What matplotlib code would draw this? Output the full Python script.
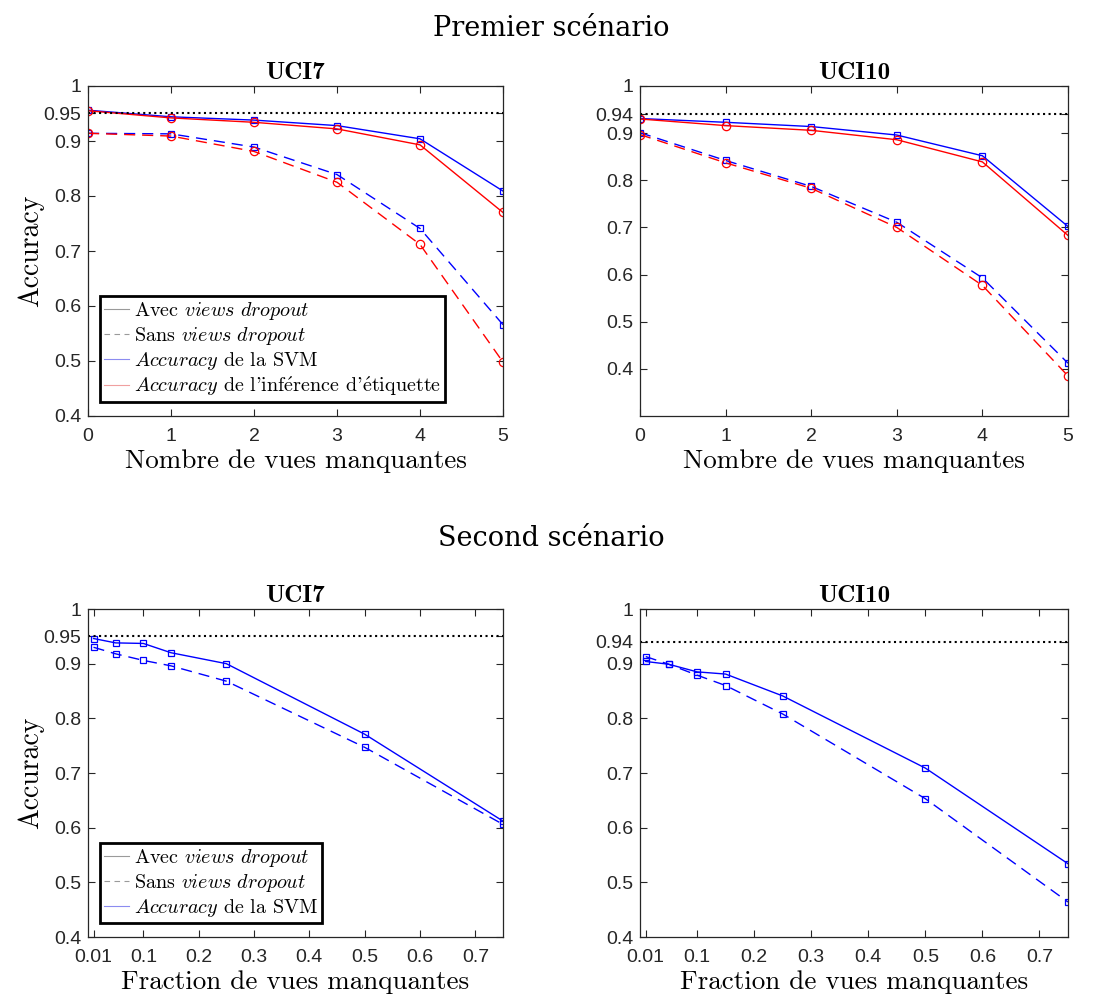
import numpy as np
import matplotlib
matplotlib.use('Agg')
import matplotlib.pyplot as plt
from matplotlib.lines import Line2D

plt.rcParams['mathtext.fontset'] = 'cm'

# premier scenario : nombre de vues manquantes
n_vues = [0, 1, 2, 3, 4, 5]
uci7_svm_avec = [0.956, 0.944, 0.938, 0.928, 0.904, 0.809]
uci7_inf_avec = [0.955, 0.942, 0.934, 0.922, 0.893, 0.770]
uci7_svm_sans = [0.914, 0.913, 0.889, 0.839, 0.741, 0.566]
uci7_inf_sans = [0.914, 0.909, 0.881, 0.825, 0.712, 0.498]

uci10_svm_avec = [0.931, 0.923, 0.914, 0.896, 0.852, 0.702]
uci10_inf_avec = [0.930, 0.916, 0.906, 0.886, 0.839, 0.683]
uci10_svm_sans = [0.901, 0.842, 0.787, 0.711, 0.593, 0.412]
uci10_inf_sans = [0.897, 0.837, 0.783, 0.700, 0.577, 0.385]

# second scenario : fraction de vues manquantes
fractions = [0.01, 0.05, 0.1, 0.15, 0.25, 0.5, 0.75]
uci7_frac_avec = [0.946, 0.938, 0.937, 0.920, 0.900, 0.771, 0.612]
uci7_frac_sans = [0.930, 0.918, 0.906, 0.896, 0.868, 0.747, 0.606]
uci10_frac_avec = [0.904, 0.899, 0.885, 0.881, 0.841, 0.709, 0.534]
uci10_frac_sans = [0.913, 0.899, 0.879, 0.860, 0.808, 0.653, 0.464]

ref_uci7 = 0.95
ref_uci10 = 0.94

yticks7 = [0.4, 0.5, 0.6, 0.7, 0.8, 0.9, 0.95, 1]
yticklabels7 = ['0.4', '0.5', '0.6', '0.7', '0.8', '0.9', '0.95', '1']
yticks10 = [0.4, 0.5, 0.6, 0.7, 0.8, 0.9, 0.94, 1]
yticklabels10 = ['0.4', '0.5', '0.6', '0.7', '0.8', '0.9', '0.94', '1']
xticks_frac = [0.01, 0.1, 0.2, 0.3, 0.4, 0.5, 0.6, 0.7]
xticklabels_frac = ['0.01', '0.1', '0.2', '0.3', '0.4', '0.5', '0.6', '0.7']

sans = ['Liberation Sans', 'DejaVu Sans']
cm = ['cmr10', 'DejaVu Serif']
gris = '#262626'

fig = plt.figure(figsize=(10.94, 9.99), dpi=100)
W, H = 1094, 999


def make_ax(x0, x1, y0, y1):
    ax = fig.add_axes([x0 / W, 1 - y1 / H, (x1 - x0) / W, (y1 - y0) / H])
    ax.tick_params(direction='in', top=True, right=True, length=5, width=0.8,
                   colors=gris, labelsize=14)
    ax.tick_params(axis='x', pad=9)
    ax.tick_params(axis='y', pad=5)
    for s in ax.spines.values():
        s.set_color(gris)
        s.set_linewidth(0.9)
    return ax


def style_ticks(ax, yt, ytl):
    ax.set_yticks(yt)
    ax.set_yticklabels(ytl, family=sans)
    for lab in ax.get_xticklabels():
        lab.set_family(sans)


lw = 1.0
dash = (0, (8, 5))

handles = [Line2D([], [], color='#9a9a9a', lw=0.8),
           Line2D([], [], color='#9a9a9a', lw=0.8, ls=(0, (5, 4))),
           Line2D([], [], color='#8c8cf0', lw=0.8),
           Line2D([], [], color='#f0a0a0', lw=0.8)]
labels = [r'Avec $views\ dropout$', r'Sans $views\ dropout$',
          r'$Accuracy$ de la SVM',
          r"$Accuracy$ de l'inf$\acute{\mathrm{e}}$rence d'$\acute{\mathrm{e}}$tiquette"]
leg_kw = dict(loc='lower left', bbox_to_anchor=(0.029, 0.042),
              prop={'family': cm, 'size': 14.5}, fancybox=False, framealpha=1,
              edgecolor='k', handlelength=1.25, handletextpad=0.25, labelspacing=0.15,
              borderpad=0.2, borderaxespad=0)

# ---- haut gauche
ax = make_ax(88, 503, 86, 416)
ax.plot(n_vues, uci7_svm_avec, '-', color='b', lw=lw, marker='s', ms=4, mfc='none', mew=0.9)
ax.plot(n_vues, uci7_inf_avec, '-', color='r', lw=lw, marker='o', ms=6, mfc='none', mew=0.9)
ax.plot(n_vues, uci7_svm_sans, ls=dash, color='b', lw=lw, marker='s', ms=4, mfc='none', mew=0.9)
ax.plot(n_vues, uci7_inf_sans, ls=dash, color='r', lw=lw, marker='o', ms=6, mfc='none', mew=0.9)
ax.axhline(ref_uci7, color='k', ls=':', lw=1.5)
ax.set_xlim(0, 5)
ax.set_ylim(0.4, 1)
ax.set_xticks(n_vues)
style_ticks(ax, yticks7, yticklabels7)
ax.set_title('UCI7', family='cmb10', fontsize=18, pad=5)
ax.set_xlabel('Nombre de vues manquantes', family=cm, fontsize=19.5, labelpad=3)
ax.set_ylabel('Accuracy', family=cm, fontsize=20, labelpad=-1)
leg = ax.legend(handles, labels, **leg_kw)
leg.get_frame().set_linewidth(2)

# ---- haut droite
ax = make_ax(640, 1068, 86, 416)
ax.plot(n_vues, uci10_svm_avec, '-', color='b', lw=lw, marker='s', ms=4, mfc='none', mew=0.9)
ax.plot(n_vues, uci10_inf_avec, '-', color='r', lw=lw, marker='o', ms=6, mfc='none', mew=0.9)
ax.plot(n_vues, uci10_svm_sans, ls=dash, color='b', lw=lw, marker='s', ms=4, mfc='none', mew=0.9)
ax.plot(n_vues, uci10_inf_sans, ls=dash, color='r', lw=lw, marker='o', ms=6, mfc='none', mew=0.9)
ax.axhline(ref_uci10, color='k', ls=':', lw=1.5)
ax.set_xlim(0, 5)
ax.set_ylim(0.3, 1)
ax.set_xticks(n_vues)
style_ticks(ax, yticks10, yticklabels10)
ax.set_title('UCI10', family='cmb10', fontsize=18, pad=5)
ax.set_xlabel('Nombre de vues manquantes', family=cm, fontsize=19.5, labelpad=3)

# ---- bas gauche
ax = make_ax(88, 503, 609, 937)
ax.plot(fractions, uci7_frac_avec, '-', color='b', lw=lw, marker='s', ms=4, mfc='none', mew=0.9)
ax.plot(fractions, uci7_frac_sans, ls=dash, color='b', lw=lw, marker='s', ms=4, mfc='none', mew=0.9)
ax.axhline(ref_uci7, color='k', ls=':', lw=1.5)
ax.set_xlim(0, 0.75)
ax.set_ylim(0.4, 1)
ax.set_xticks(xticks_frac)
ax.set_xticklabels(xticklabels_frac)
style_ticks(ax, yticks7, yticklabels7)
ax.set_title('UCI7', family='cmb10', fontsize=18, pad=5)
ax.set_xlabel('Fraction de vues manquantes', family=cm, fontsize=19.5, labelpad=3)
ax.set_ylabel('Accuracy', family=cm, fontsize=20, labelpad=-1)
leg = ax.legend(handles[:3], labels[:3], **leg_kw)
leg.get_frame().set_linewidth(2)

# ---- bas droite
ax = make_ax(640, 1068, 609, 937)
ax.plot(fractions, uci10_frac_avec, '-', color='b', lw=lw, marker='s', ms=4, mfc='none', mew=0.9)
ax.plot(fractions, uci10_frac_sans, ls=dash, color='b', lw=lw, marker='s', ms=4, mfc='none', mew=0.9)
ax.axhline(ref_uci10, color='k', ls=':', lw=1.5)
ax.set_xlim(0, 0.75)
ax.set_ylim(0.4, 1)
ax.set_xticks(xticks_frac)
ax.set_xticklabels(xticklabels_frac)
style_ticks(ax, yticks10, yticklabels10)
ax.set_title('UCI10', family='cmb10', fontsize=18, pad=5)
ax.set_xlabel('Fraction de vues manquantes', family=cm, fontsize=19.5, labelpad=3)

fig.text(551 / W, 1 - 28 / H, 'Premier scénario', ha='center', va='center',
         family='DejaVu Serif', fontsize=19.5)
fig.text(551 / W, 1 - 538 / H, 'Second scénario', ha='center', va='center',
         family='DejaVu Serif', fontsize=19.5)

fig.savefig('out.png', dpi=100)
